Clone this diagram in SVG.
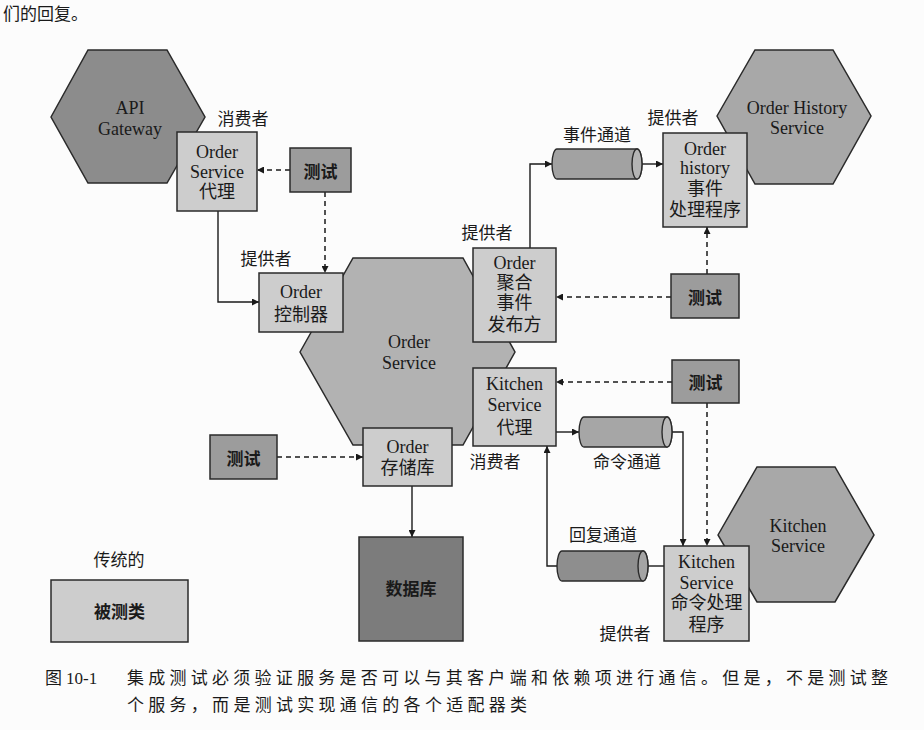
<svg xmlns="http://www.w3.org/2000/svg" width="924" height="730" viewBox="0 0 924 730">
<defs>
<marker id="ah" viewBox="0 0 10 10" refX="10" refY="5" markerWidth="9" markerHeight="7" markerUnits="userSpaceOnUse" orient="auto">
<path d="M0,0 L10,5 L0,10 Z" fill="#1a1a1a"/>
</marker>
<style>
text{font-family:"Liberation Serif","Noto Sans CJK SC",serif;font-size:18px;fill:#1a1a1a;text-anchor:middle;dominant-baseline:central}
.hex{stroke:#2a2a2a;stroke-width:1.5}
.box{fill:#cdcdcd;stroke:#2a2a2a;stroke-width:1.5}
.test{fill:#9c9c9c;stroke:#2a2a2a;stroke-width:1.5}
.cyl{stroke:#2a2a2a;stroke-width:1.4}
.bold{font-family:"Noto Sans CJK SC",sans-serif;font-weight:bold;font-size:17px}
.lab{font-family:"Noto Sans CJK SC",sans-serif;font-size:17px}
.conn{fill:none;stroke:#1a1a1a;stroke-width:1.4;marker-end:url(#ah)}
.plain{fill:none;stroke:#1a1a1a;stroke-width:1.4}
.dash{fill:none;stroke:#1a1a1a;stroke-width:1.5;stroke-dasharray:5 4;marker-end:url(#ah)}
.cap{font-family:"Noto Sans CJK SC",sans-serif;font-size:17px;text-anchor:start;dominant-baseline:auto}
</style>
</defs>
<rect x="0" y="0" width="924" height="730" fill="#fcfcfc"/>
<text class="cap" x="3" y="20" font-size="17">们的回复。</text>

<!-- hexagons (services) -->
<g id="api-gateway">
<polygon class="hex" fill="#8c8c8c" points="51,117 88,50 167,50 205,117 167,183 88,183"/>
<text x="130" y="108">API</text>
<text x="130" y="129">Gateway</text>
</g>
<g id="order-service">
<polygon class="hex" fill="#b2b2b2" points="300,352 353,258 463,258 515,352 463,445 353,445"/>
<text x="409" y="342">Order</text>
<text x="409" y="363">Service</text>
</g>
<g id="order-history-service">
<polygon class="hex" fill="#a8a8a8" points="717,116 755,50 833,50 871,116 833,184 755,184"/>
<text x="797" y="108">Order History</text>
<text x="797" y="128">Service</text>
</g>
<g id="kitchen-service">
<polygon class="hex" fill="#a8a8a8" points="718,535 757,467 835,467 874,535 835,602 757,602"/>
<text x="798" y="526">Kitchen</text>
<text x="798" y="546">Service</text>
</g>

<!-- connectors -->
<g id="connectors">
<path class="conn" d="M218,211 V302 H259"/>
<path class="dash" d="M325,192 V273"/>
<path class="dash" d="M290,170 H257"/>
<path class="conn" d="M530,248 V164 H552"/>
<path class="conn" d="M642,164 H663"/>
<path class="dash" d="M707,274 V227"/>
<path class="dash" d="M671,297 H556"/>
<path class="dash" d="M672,382 H556"/>
<path class="dash" d="M707,403 V546"/>
<path class="conn" d="M556,432 H579"/>
<path class="conn" d="M672,432 H683 V546"/>
<path class="plain" d="M664,566 H648"/>
<path class="conn" d="M557,566 H547 V446"/>
<path class="dash" d="M277,457 H363"/>
<path class="conn" d="M412,486 V537"/>
</g>

<!-- adapter boxes -->
<g id="order-service-proxy">
<rect class="box" x="177" y="132" width="80" height="79"/>
<text x="217" y="152">Order</text>
<text x="217" y="172">Service</text>
<text x="217" y="192">代理</text>
</g>
<g id="order-controller">
<rect class="box" x="259" y="273" width="84" height="59"/>
<text x="301" y="292">Order</text>
<text x="301" y="315">控制器</text>
</g>
<g id="order-event-publisher">
<rect class="box" x="473" y="248" width="83" height="94"/>
<text x="514.5" y="263">Order</text>
<text x="514.5" y="283">聚合</text>
<text x="514.5" y="303">事件</text>
<text x="514.5" y="325">发布方</text>
</g>
<g id="kitchen-service-proxy">
<rect class="box" x="473" y="368" width="83" height="78"/>
<text x="514.5" y="384">Kitchen</text>
<text x="514.5" y="405">Service</text>
<text x="514.5" y="428">代理</text>
</g>
<g id="order-repository">
<rect class="box" x="363" y="428" width="89" height="58"/>
<text x="407.5" y="447">Order</text>
<text x="407.5" y="468">存储库</text>
</g>
<g id="order-history-handler">
<rect class="box" x="663" y="133" width="84" height="94"/>
<text x="705" y="149">Order</text>
<text x="705" y="168">history</text>
<text x="705" y="189">事件</text>
<text x="705" y="210">处理程序</text>
</g>
<g id="kitchen-command-handler">
<rect class="box" x="664" y="546" width="85" height="95"/>
<text x="706.5" y="562">Kitchen</text>
<text x="706.5" y="583">Service</text>
<text x="706.5" y="603">命令处理</text>
<text x="706.5" y="625">程序</text>
</g>

<!-- tests -->
<g id="test-proxy">
<rect class="test" x="290" y="148" width="61" height="44"/>
<text class="bold" x="320.5" y="170">测试</text>
</g>
<g id="test-publisher">
<rect class="test" x="671" y="274" width="68" height="44"/>
<text class="bold" x="705" y="296">测试</text>
</g>
<g id="test-kitchen">
<rect class="test" x="672" y="360" width="67" height="43"/>
<text class="bold" x="705.5" y="381.5">测试</text>
</g>
<g id="test-repository">
<rect class="test" x="210" y="435" width="67" height="44"/>
<text class="bold" x="243.5" y="457">测试</text>
</g>

<!-- channels -->
<g id="event-channel">
<path class="cyl" fill="#a2a2a2" d="M557,149 H637 A5,15 0 0 1 637,179 H557 A5,15 0 0 1 557,149 Z"/>
<ellipse class="cyl" fill="#b4b4b4" cx="637" cy="164" rx="5" ry="15"/>
</g>
<g id="command-channel">
<path class="cyl" fill="#a6a6a6" d="M584,417 H667 A5,15 0 0 1 667,447 H584 A5,15 0 0 1 584,417 Z"/>
<ellipse class="cyl" fill="#b8b8b8" cx="667" cy="432" rx="5" ry="15"/>
</g>
<g id="reply-channel">
<path class="cyl" fill="#8e8e8e" d="M562,551 H643 A5,15 0 0 1 643,581 H562 A5,15 0 0 1 562,551 Z"/>
<ellipse class="cyl" fill="#a4a4a4" cx="643" cy="566" rx="5" ry="15"/>
</g>

<!-- database and legend -->
<g id="database">
<rect x="359" y="537" width="104" height="104" fill="#7c7c7c" stroke="#2a2a2a" stroke-width="1.5"/>
<text class="bold" x="411" y="587">数据库</text>
</g>
<g id="legend">
<text class="lab" x="119" y="558">传统的</text>
<rect class="box" x="51" y="580" width="137" height="62" fill="#c6c6c6"/>
<text class="bold" x="119.5" y="610">被测类</text>
</g>

<!-- labels -->
<g id="labels">
<text class="lab" x="243" y="117">消费者</text>
<text class="lab" x="266" y="257">提供者</text>
<text class="lab" x="487" y="231">提供者</text>
<text class="lab" x="597" y="133">事件通道</text>
<text class="lab" x="673" y="116">提供者</text>
<text class="lab" x="495" y="460">消费者</text>
<text class="lab" x="627" y="460">命令通道</text>
<text class="lab" x="603" y="533">回复通道</text>
<text class="lab" x="625" y="632">提供者</text>
</g>

<!-- caption -->
<g id="caption">
<text class="cap" x="45" y="684"><tspan font-family="Noto Sans CJK SC,sans-serif">图</tspan><tspan font-family="Liberation Serif,serif" dx="4">10-1</tspan></text>
<text class="cap" x="127" y="684" textLength="761" lengthAdjust="spacing">集成测试必须验证服务是否可以与其客户端和依赖项进行通信。但是，不是测试整</text>
<text class="cap" x="127" y="711" textLength="400" lengthAdjust="spacing">个服务，而是测试实现通信的各个适配器类</text>
</g>
</svg>
